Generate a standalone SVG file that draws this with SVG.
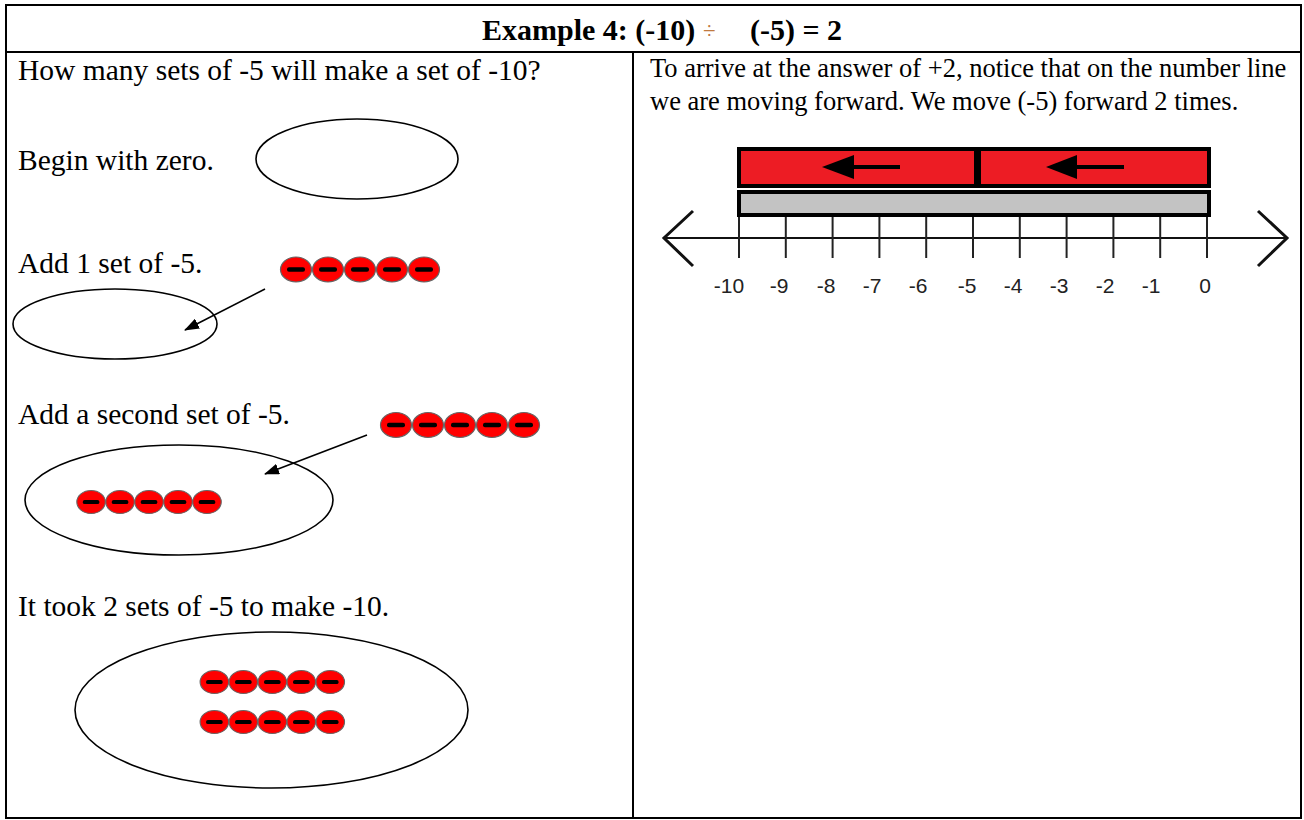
<svg xmlns="http://www.w3.org/2000/svg" xmlns:xlink="http://www.w3.org/1999/xlink" width="1304" height="820" viewBox="0 0 1304 820">
<style>
.t{font-family:"Liberation Serif","Times New Roman",serif;font-size:29.5px;fill:#000}
.tr{font-family:"Liberation Serif","Times New Roman",serif;font-size:26.5px;fill:#000}
.ttl{font-family:"Liberation Serif","Times New Roman",serif;font-size:30px;font-weight:bold;fill:#000}
.nl{font-family:"Liberation Sans",Arial,sans-serif;font-size:21px;fill:#222}
.grid{stroke:#000;stroke-width:2;fill:none}
.ell{fill:none;stroke:#000;stroke-width:1.6}
.tick{stroke:#222;stroke-width:2}
.con{stroke:#000;stroke-width:1.6;fill:none}
</style>
<defs>
<g id="ctr">
<ellipse cx="0" cy="0" rx="15.5" ry="12.5" fill="#ff0000" stroke="#666" stroke-width="1.2"/>
<rect x="-9" y="-2.3" width="18" height="4.6" rx="2" fill="#000"/>
</g>
<marker id="ah" viewBox="0 0 15 11" refX="14" refY="5.5" markerWidth="15" markerHeight="11" markerUnits="userSpaceOnUse" orient="auto">
<path d="M0,0 L15,5.5 L0,11 z" fill="#000"/>
</marker>
</defs>
<rect width="1304" height="820" fill="#fff"/>
<g id="table">
<rect x="6" y="5" width="1295" height="813" class="grid"/>
<line x1="6" y1="52" x2="1301" y2="52" class="grid"/>
<line x1="633" y1="52" x2="633" y2="818" class="grid"/>
</g>
<g id="title">
<text y="40" class="ttl"><tspan x="482">Example 4: (-10)</tspan><tspan x="703" y="38" font-size="23" font-weight="normal" fill="#c07a40">÷</tspan><tspan x="750" y="40">(-5) = 2</tspan></text>
</g>
<g id="left-text">
<text x="18" y="80" class="t">How many sets of -5 will make a set of -10?</text>
<text x="18" y="170" class="t">Begin with zero.</text>
<text x="18" y="273" class="t">Add 1 set of -5.</text>
<text x="18" y="424" class="t">Add a second set of -5.</text>
<text x="18" y="616" class="t">It took 2 sets of -5 to make -10.</text>
</g>
<g id="step-zero">
<ellipse cx="357" cy="159" rx="101" ry="40" class="ell"/>
</g>
<g id="step-one">
<ellipse cx="115" cy="324" rx="102" ry="35" class="ell"/>
<use xlink:href="#ctr" x="296" y="269.5"/>
<use xlink:href="#ctr" x="328" y="269.5"/>
<use xlink:href="#ctr" x="360" y="269.5"/>
<use xlink:href="#ctr" x="392" y="269.5"/>
<use xlink:href="#ctr" x="424" y="269.5"/>
</g>
<g id="step-two">
<ellipse cx="179" cy="500" rx="154" ry="55" class="ell"/>
<use xlink:href="#ctr" x="396" y="425"/>
<use xlink:href="#ctr" x="428" y="425"/>
<use xlink:href="#ctr" x="460" y="425"/>
<use xlink:href="#ctr" x="492" y="425"/>
<use xlink:href="#ctr" x="524" y="425"/>
<g transform="translate(0,502) scale(0.92)">
<use xlink:href="#ctr" x="99" y="0"/>
<use xlink:href="#ctr" x="130.5" y="0"/>
<use xlink:href="#ctr" x="162" y="0"/>
<use xlink:href="#ctr" x="193.5" y="0"/>
<use xlink:href="#ctr" x="225" y="0"/>
</g>
</g>
<g id="result">
<ellipse cx="271.5" cy="710" rx="196.5" ry="78" class="ell"/>
<g transform="translate(0,682) scale(0.92)">
<use xlink:href="#ctr" x="233" y="0"/>
<use xlink:href="#ctr" x="264.5" y="0"/>
<use xlink:href="#ctr" x="296" y="0"/>
<use xlink:href="#ctr" x="327.5" y="0"/>
<use xlink:href="#ctr" x="359" y="0"/>
</g>
<g transform="translate(0,722) scale(0.92)">
<use xlink:href="#ctr" x="233" y="0"/>
<use xlink:href="#ctr" x="264.5" y="0"/>
<use xlink:href="#ctr" x="296" y="0"/>
<use xlink:href="#ctr" x="327.5" y="0"/>
<use xlink:href="#ctr" x="359" y="0"/>
</g>
</g>
<g id="connectors">
<line x1="265" y1="289" x2="185" y2="330" class="con" marker-end="url(#ah)"/>
<line x1="367" y1="435" x2="265" y2="474" class="con" marker-end="url(#ah)"/>
</g>
<g id="right-text">
<text x="650" y="77" class="tr">To arrive at the answer of +2, notice that on the number line</text>
<text x="650" y="110" class="tr">we are moving forward. We move (-5) forward 2 times.</text>
</g>
<g id="number-line">
<rect x="739" y="149" width="237" height="37" fill="#ed1c24" stroke="#000" stroke-width="4"/>
<rect x="979" y="149" width="230" height="37" fill="#ed1c24" stroke="#000" stroke-width="4"/>
<rect x="739" y="192" width="470" height="23" fill="#c3c3c3" stroke="#000" stroke-width="4"/>
<polygon points="822,167 854,155 854,179" fill="#000"/>
<line x1="850" y1="167" x2="900" y2="167" stroke="#000" stroke-width="4"/>
<polygon points="1046,167 1077,155 1077,179" fill="#000"/>
<line x1="1073" y1="167" x2="1124" y2="167" stroke="#000" stroke-width="4"/>
<line x1="665" y1="238" x2="1286" y2="238" stroke="#111" stroke-width="2"/>
<polyline points="693,211 664,238 693,266" fill="none" stroke="#111" stroke-width="3"/>
<polyline points="1258,211 1287,238 1258,266" fill="none" stroke="#111" stroke-width="3"/>
<line x1="739" y1="217" x2="739" y2="258" class="tick" stroke="#888" stroke-width="1.5"/>
<line x1="785.8" y1="217" x2="785.8" y2="258" class="tick"/>
<line x1="832.6" y1="217" x2="832.6" y2="258" class="tick"/>
<line x1="879.4" y1="217" x2="879.4" y2="258" class="tick"/>
<line x1="926.2" y1="217" x2="926.2" y2="258" class="tick"/>
<line x1="973" y1="217" x2="973" y2="258" class="tick"/>
<line x1="1019.8" y1="217" x2="1019.8" y2="258" class="tick"/>
<line x1="1066.6" y1="217" x2="1066.6" y2="258" class="tick"/>
<line x1="1113.4" y1="217" x2="1113.4" y2="258" class="tick"/>
<line x1="1160.2" y1="217" x2="1160.2" y2="258" class="tick"/>
<line x1="1207" y1="217" x2="1207" y2="258" class="tick"/>
<text x="729" y="293" class="nl" text-anchor="middle">-10</text>
<text x="779" y="293" class="nl" text-anchor="middle">-9</text>
<text x="826" y="293" class="nl" text-anchor="middle">-8</text>
<text x="872" y="293" class="nl" text-anchor="middle">-7</text>
<text x="918" y="293" class="nl" text-anchor="middle">-6</text>
<text x="967" y="293" class="nl" text-anchor="middle">-5</text>
<text x="1013" y="293" class="nl" text-anchor="middle">-4</text>
<text x="1059" y="293" class="nl" text-anchor="middle">-3</text>
<text x="1105" y="293" class="nl" text-anchor="middle">-2</text>
<text x="1151" y="293" class="nl" text-anchor="middle">-1</text>
<text x="1205" y="293" class="nl" text-anchor="middle">0</text>
</g>
</svg>
